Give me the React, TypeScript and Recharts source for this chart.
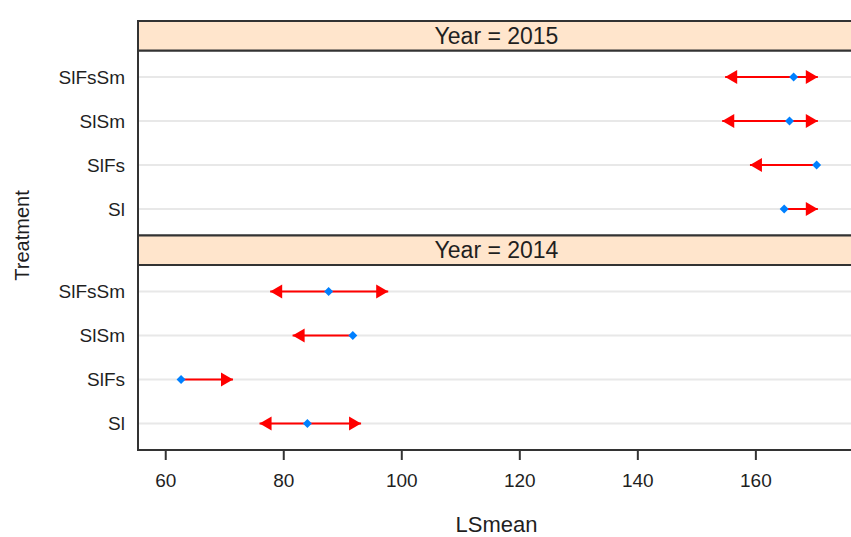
import React from 'react';
import {
  ScatterChart,
  Scatter,
  XAxis,
  YAxis,
  CartesianGrid,
  ReferenceArea,
  ErrorBar
} from 'recharts';

// Treatments from bottom row to top row within each panel
const treatments = ['Sl', 'SlFs', 'SlSm', 'SlFsSm'];
const years = ['2014', '2015'];

// LSmean point and arrow ends (null = no arrow on that side)
const mean2014 = [84.0, 62.6, 91.7, 87.6];
const lower2014 = [75.9, null, 81.5, 77.7];
const upper2014 = [93.1, 71.4, null, 97.7];

const mean2015 = [164.8, 170.3, 165.7, 166.4];
const lower2015 = [null, 159.0, 154.3, 154.8];
const upper2015 = [170.5, null, 170.5, 170.5];

const xTicks = [60, 80, 100, 120, 140, 160];

// layout of the stacked panels on one numeric y scale
const PANEL = 4.2;
const STRIP = 0.67;
const Y_MIN = 0.4;
const Y_MAX = Y_MIN + 2 * (PANEL + STRIP);

const yearData = [
  { mean: mean2014, lower: lower2014, upper: upper2014 },
  { mean: mean2015, lower: lower2015, upper: upper2015 }
];

const panels = years.map((year, yi) => {
  const base = Y_MIN + yi * (PANEL + STRIP);
  const d = yearData[yi];
  const rows = treatments.map((t, i) => ({
    name: t,
    y: base + 0.6 + i,
    x: d.mean[i],
    lower: d.lower[i],
    upper: d.upper[i],
    err: [d.mean[i] - (d.lower[i] ?? d.mean[i]), (d.upper[i] ?? d.mean[i]) - d.mean[i]]
  }));
  return { year, base, rows };
});

const allRows = panels.flatMap((p) => p.rows);
const yTicks = allRows.map((r) => r.y);
const yLabel = (v: number) => {
  const r = allRows.find((row) => Math.abs(row.y - v) < 0.01);
  return r ? r.name : '';
};

const meanPoints = allRows.map((r) => ({ x: r.x, y: r.y, err: r.err }));
const lowerTips = allRows.filter((r) => r.lower != null).map((r) => ({ x: r.lower, y: r.y }));
const upperTips = allRows.filter((r) => r.upper != null).map((r) => ({ x: r.upper, y: r.y }));

const RED = '#FF0000';
const BLUE = '#0080FF';
const FRAME = '#333333';
const TEXT = '#1f1f1f';

const LeftHead = (props: any) => {
  const { cx, cy } = props;
  return <polygon points={`${cx},${cy} ${cx + 12},${cy - 7} ${cx + 12},${cy + 7}`} fill={RED} />;
};

const RightHead = (props: any) => {
  const { cx, cy } = props;
  return <polygon points={`${cx},${cy} ${cx - 12},${cy - 7} ${cx - 12},${cy + 7}`} fill={RED} />;
};

const Diamond = (props: any) => {
  const { cx, cy } = props;
  const r = 4.5;
  return <polygon points={`${cx},${cy - r} ${cx + r},${cy} ${cx},${cy + r} ${cx - r},${cy}`} fill={BLUE} />;
};

const TreatmentLabel = (props: any) => {
  const { x, y, height } = props.viewBox;
  const cx = x + 22;
  const cy = y + height / 2;
  return (
    <text
      x={cx}
      y={cy}
      transform={`rotate(-90 ${cx} ${cy})`}
      textAnchor="middle"
      dominantBaseline="central"
      fontSize={20}
      fill={TEXT}
    >
      Treatment
    </text>
  );
};

const App: React.FC = () => {
  return (
    <div
      style={{
        position: 'fixed',
        left: 0,
        top: 0,
        width: 851,
        height: 537,
        overflow: 'hidden',
        background: '#fff',
        fontFamily: '"Liberation Sans", Arial, sans-serif'
      }}
    >
      <ScatterChart width={870} height={537} margin={{ top: 0, right: 15, bottom: 0, left: 0 }}>
        <CartesianGrid vertical={false} stroke="#e8e8e8" strokeWidth={2} />
        <XAxis
          type="number"
          dataKey="x"
          domain={[55.3, 176.8]}
          allowDataOverflow
          ticks={xTicks}
          height={87}
          axisLine={false}
          tickSize={10}
          tickMargin={14}
          tickLine={{ stroke: FRAME, strokeWidth: 2 }}
          tick={{ fontSize: 19, fill: TEXT }}
          label={{ value: 'LSmean', position: 'insideBottom', offset: 5, fontSize: 22, fill: TEXT }}
        />
        <XAxis
          xAxisId="top"
          orientation="top"
          type="number"
          dataKey="x"
          domain={[55.3, 176.8]}
          allowDataOverflow
          ticks={xTicks}
          height={21}
          axisLine={false}
          tickSize={11}
          tickLine={{ stroke: FRAME, strokeWidth: 2 }}
          tick={false}
        />
        <YAxis
          type="number"
          dataKey="y"
          domain={[Y_MIN, Y_MAX]}
          allowDataOverflow
          ticks={yTicks}
          tickFormatter={yLabel}
          width={138}
          axisLine={false}
          tickLine={false}
          tickSize={0}
          tickMargin={13}
          tick={{ fontSize: 19, fill: TEXT }}
          label={<TreatmentLabel />}
        />
        {panels.map((p) => (
          <ReferenceArea
            key={`panel-${p.year}`}
            y1={p.base}
            y2={p.base + PANEL}
            fill="none"
            stroke={FRAME}
            strokeWidth={2}
            ifOverflow="visible"
          />
        ))}
        {panels.map((p) => (
          <ReferenceArea
            key={`strip-${p.year}`}
            y1={p.base + PANEL}
            y2={p.base + PANEL + STRIP}
            fill="#FFE5CC"
            fillOpacity={1}
            stroke={FRAME}
            strokeWidth={2}
            ifOverflow="visible"
            label={{ value: `Year = ${p.year}`, position: 'center', fontSize: 23, fill: TEXT }}
          />
        ))}
        <Scatter data={meanPoints} shape={() => <g />} isAnimationActive={false}>
          <ErrorBar dataKey="err" direction="x" width={0} stroke={RED} strokeWidth={2} isAnimationActive={false} />
        </Scatter>
        <Scatter data={lowerTips} shape={<LeftHead />} isAnimationActive={false} />
        <Scatter data={upperTips} shape={<RightHead />} isAnimationActive={false} />
        <Scatter data={meanPoints} shape={<Diamond />} isAnimationActive={false} />
      </ScatterChart>
    </div>
  );
};

export default App;
